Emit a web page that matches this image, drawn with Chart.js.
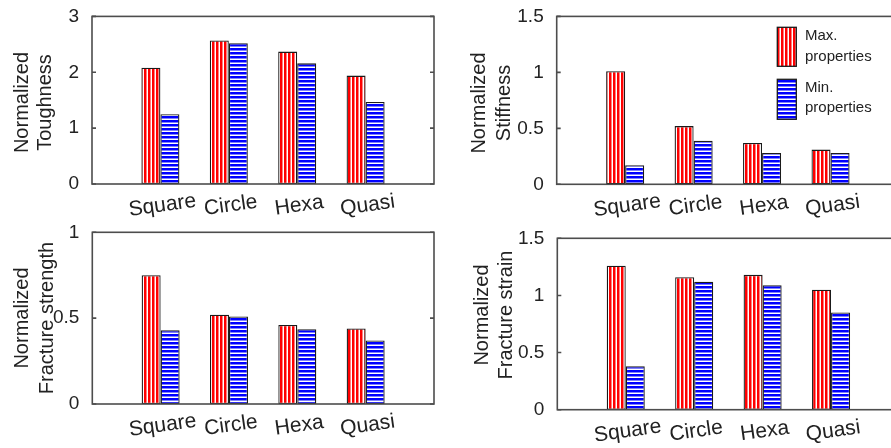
<!DOCTYPE html>
<html>
<head>
<meta charset="utf-8">
<script src="https://cdn.jsdelivr.net/npm/chart.js@4/dist/chart.umd.min.js"></script>
<style>
  html, body { margin: 0; padding: 0; background: #fff; overflow: hidden; width: 891px; height: 448px; }
  .panel { position: absolute; }
  .panel canvas { display: block; }
</style>
</head>
<body>
<div class="panel" id="pTL"><canvas id="cTL"></canvas></div>
<div class="panel" id="pTR"><canvas id="cTR"></canvas></div>
<div class="panel" id="pBL"><canvas id="cBL"></canvas></div>
<div class="panel" id="pBR"><canvas id="cBR"></canvas></div>
<script>
// ---- data ----
const categories = ['Square', 'Circle', 'Hexa', 'Quasi'];
const seriesLabels = [['Max.', 'properties'], ['Min.', 'properties']];

const toughnessMax = [2.08, 2.57, 2.37, 1.94];
const toughnessMin = [1.25, 2.52, 2.16, 1.47];
const stiffnessMax = [1.01, 0.52, 0.37, 0.31];
const stiffnessMin = [0.17, 0.39, 0.28, 0.28];
const strengthMax = [0.75, 0.52, 0.46, 0.44];
const strengthMin = [0.43, 0.51, 0.435, 0.37];
const strainMax = [1.26, 1.16, 1.18, 1.05];
const strainMin = [0.38, 1.12, 1.09, 0.85];

const toughnessTicks = [0, 1, 2, 3];
const stiffnessTicks = [0, 0.5, 1, 1.5];
const strengthTicks = [0, 0.5, 1];
const strainTicks = [0, 0.5, 1, 1.5];

const toughnessTitle = ['Normalized', 'Toughness'];
const stiffnessTitle = ['Normalized', 'Stiffness'];
const strengthTitle = ['Normalized', 'Fracture strength'];
const strainTitle = ['Normalized', 'Fracture strain'];

// ---- styling ----
const FONT = 'Arial, "Liberation Sans", Helvetica, sans-serif';
const TEXT = '#222222';
const FRAME = '#4d4d4d';
const EDGE = '#1a1a1a';

function stripes(color, vertical) {
  const c = document.createElement('canvas');
  c.width = 4; c.height = 4;
  const g = c.getContext('2d');
  g.fillStyle = '#ffffff';
  g.fillRect(0, 0, 4, 4);
  g.fillStyle = color;
  if (vertical) g.fillRect(0, 0, 2.5, 4); else g.fillRect(0, 0, 4, 2.5);
  return g.createPattern(c, 'repeat');
}
const redHatch = stripes('#ff0000', true);
const blueHatch = stripes('#0000ff', false);

// frame, inward ticks, tilted category labels, axis titles and legend
const decor = {
  id: 'decor',
  afterDraw(chart, args, o) {
    const { ctx, chartArea: a, scales: { x, y } } = chart;
    const ox = o.canvas.x, oy = o.canvas.y;
    ctx.save();
    ctx.strokeStyle = FRAME;
    ctx.lineWidth = 1.6;
    ctx.strokeRect(a.left, a.top, a.right - a.left, a.bottom - a.top);
    ctx.beginPath();
    y.ticks.forEach(t => {
      const py = y.getPixelForValue(t.value);
      ctx.moveTo(a.left, py); ctx.lineTo(a.left + 4, py);
      ctx.moveTo(a.right, py); ctx.lineTo(a.right - 4, py);
    });
    ctx.stroke();

    ctx.fillStyle = TEXT;
    ctx.textAlign = 'center';
    ctx.textBaseline = 'middle';
    ctx.font = '21px ' + FONT;
    categories.forEach((c, i) => {
      const px = x.getPixelForValue(i + 1);
      ctx.save();
      ctx.translate(px + 2, a.bottom + 21.5);
      ctx.rotate(-8 * Math.PI / 180);
      ctx.fillText(c, 0, 0);
      ctx.restore();
    });

    ctx.font = '20px ' + FONT;
    o.title.forEach((line, i) => {
      ctx.save();
      ctx.translate(o.titleX[i] - ox, o.titleY - oy);
      ctx.rotate(-Math.PI / 2);
      ctx.fillText(line, 0, 0);
      ctx.restore();
    });

    if (o.legend) {
      const L = o.legend;
      ctx.font = '15px ' + FONT;
      ctx.textAlign = 'left';
      chart.data.datasets.forEach((ds, i) => {
        const b = L.boxes[i];
        ctx.fillStyle = ds.backgroundColor;
        ctx.fillRect(b.x - ox, b.y - oy, b.w, b.h);
        ctx.strokeStyle = EDGE;
        ctx.lineWidth = 1.3;
        ctx.strokeRect(b.x - ox, b.y - oy, b.w, b.h);
        ctx.fillStyle = TEXT;
        seriesLabels[i].forEach((t, j) => {
          ctx.fillText(t, L.textX - ox, L.textY[i][j] - oy);
        });
      });
    }
    ctx.restore();
  }
};

function makePanel(id, maxVals, minVals, yTicks, title, layout) {
  const { canvas: cv, area } = layout;
  const holder = document.getElementById('p' + id.slice(1));
  holder.style.left = cv.x + 'px';
  holder.style.top = cv.y + 'px';
  const el = document.getElementById(id);
  el.width = cv.w; el.height = cv.h;
  el.style.width = cv.w + 'px'; el.style.height = cv.h + 'px';

  const left = area.l - cv.x, top = area.t - cv.y;
  const right = area.r - cv.x, bottom = area.b - cv.y;
  const bar = { categoryPercentage: 0.556, barPercentage: 1, borderColor: EDGE, borderWidth: 1.3, borderSkipped: false };

  return new Chart(el, {
    type: 'bar',
    data: {
      labels: ['', ...categories, ''],
      datasets: [
        Object.assign({ label: seriesLabels[0].join(' '), data: [null, ...maxVals, null], backgroundColor: redHatch }, bar),
        Object.assign({ label: seriesLabels[1].join(' '), data: [null, ...minVals, null], backgroundColor: blueHatch }, bar)
      ]
    },
    options: {
      responsive: false,
      animation: false,
      devicePixelRatio: 1,
      layout: { autoPadding: false, padding: { left: 0, top: top, right: cv.w - right, bottom: 0 } },
      plugins: {
        legend: { display: false },
        tooltip: { enabled: false },
        decor: {
          canvas: cv,
          title: title,
          titleX: layout.titleX,
          titleY: layout.titleY,
          legend: layout.legend || null
        }
      },
      scales: {
        x: {
          type: 'category',
          offset: false,
          grid: { display: false },
          border: { display: false },
          ticks: { display: false },
          afterFit: s => { s.height = cv.h - bottom; }
        },
        y: {
          min: yTicks[0],
          max: yTicks[yTicks.length - 1],
          grid: { display: false },
          border: { display: false },
          afterBuildTicks: s => { s.ticks = yTicks.map(v => ({ value: v })); },
          ticks: { padding: 5, color: TEXT, font: { family: FONT, size: 19 }, callback: v => String(v) },
          afterFit: s => { s.width = left; }
        }
      }
    },
    plugins: [decor]
  });
}

makePanel('cTL', toughnessMax, toughnessMin, toughnessTicks, toughnessTitle, {
  canvas: { x: 0, y: 0, w: 445, h: 224 },
  area: { l: 92, t: 13.3, r: 434, b: 184 },
  titleX: [22.5, 45.5], titleY: 102.5
});
makePanel('cTR', stiffnessMax, stiffnessMin, stiffnessTicks, stiffnessTitle, {
  canvas: { x: 445, y: 0, w: 470, h: 224 },
  area: { l: 556.7, t: 13.3, r: 899, b: 184.3 },
  titleX: [479.5, 504.5], titleY: 103,
  legend: {
    boxes: [{ x: 777.3, y: 27.3, w: 19, h: 39 }, { x: 777.3, y: 79.3, w: 19, h: 40 }],
    textX: 805,
    textY: [[36, 57], [87.5, 108]]
  }
});
makePanel('cBL', strengthMax, strengthMin, strengthTicks, strengthTitle, {
  canvas: { x: 0, y: 214, w: 445, h: 234 },
  area: { l: 92.3, t: 232.3, r: 434, b: 404 },
  titleX: [22.5, 47.5], titleY: 318
});
makePanel('cBR', strainMax, strainMin, strainTicks, strainTitle, {
  canvas: { x: 445, y: 214, w: 470, h: 234 },
  area: { l: 557.3, t: 238.3, r: 899.5, b: 409.7 },
  titleX: [482.5, 506], titleY: 315
});
</script>
</body>
</html>
